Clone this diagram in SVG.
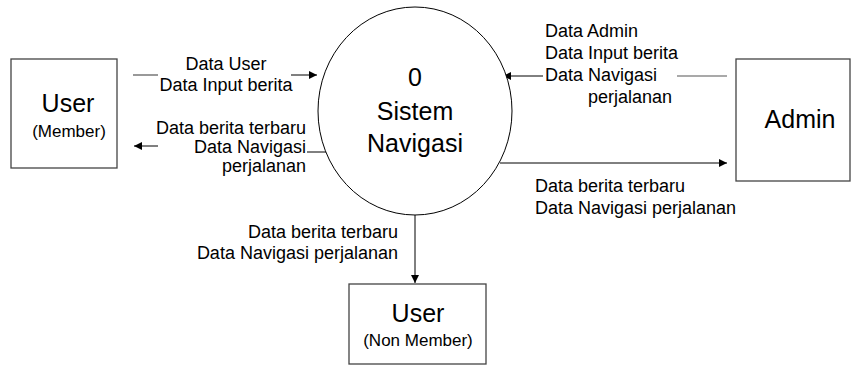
<svg xmlns="http://www.w3.org/2000/svg" width="852" height="366" viewBox="0 0 852 366">
<style>
  text { font-family: "Liberation Sans", Arial, sans-serif; fill: #000; }
  .box { fill: #fff; stroke: #444; stroke-width: 1.3; }
  .proc { fill: #fff; stroke: #000; stroke-width: 1; }
  .big { font-size: 25px; text-anchor: middle; }
  .sub { font-size: 17px; text-anchor: middle; }
  .lbl { font-size: 18px; }
  .flow { fill: none; stroke: #000; stroke-width: 1; }
  .flowg { fill: none; stroke: #555; stroke-width: 1.2; }
</style>
<defs>
  <marker id="ah" viewBox="0 0 10 10" refX="10" refY="5" markerWidth="10" markerHeight="8" markerUnits="userSpaceOnUse" orient="auto">
    <path d="M0,0 L10,5 L0,10 z" fill="#000"/>
  </marker>
</defs>
<rect width="852" height="366" fill="#fff"/>

<g id="connectors">
  <!-- User(Member) -> Sistem -->
  <line class="flowg" x1="133" y1="75" x2="158" y2="75"/>
  <line class="flow" x1="291" y1="75" x2="317" y2="75" marker-end="url(#ah)"/>
  <!-- Sistem -> User(Member) -->
  <line class="flow" x1="326" y1="152" x2="307" y2="152"/>
  <line class="flow" x1="158" y1="146" x2="134" y2="146" marker-end="url(#ah)"/>
  <!-- Admin -> Sistem -->
  <line class="flowg" x1="727" y1="76" x2="677" y2="76"/>
  <line class="flow" x1="543" y1="76" x2="503" y2="76" marker-end="url(#ah)"/>
  <!-- Sistem -> Admin -->
  <line class="flow" x1="500" y1="163" x2="727" y2="163" marker-end="url(#ah)"/>
  <!-- Sistem -> User(Non Member) -->
  <line class="flow" x1="415" y1="214" x2="415" y2="283" marker-end="url(#ah)"/>

  <text class="lbl" x="226" y="70" text-anchor="middle">Data User</text>
  <text class="lbl" x="226" y="91" text-anchor="middle">Data Input berita</text>

  <text class="lbl" x="306" y="134" text-anchor="end">Data berita terbaru</text>
  <text class="lbl" x="306" y="153" text-anchor="end">Data Navigasi</text>
  <text class="lbl" x="306" y="172" text-anchor="end">perjalanan</text>

  <text class="lbl" x="545" y="37">Data Admin</text>
  <text class="lbl" x="545" y="59">Data Input berita</text>
  <text class="lbl" x="545" y="81">Data Navigasi</text>
  <text class="lbl" x="588" y="103">perjalanan</text>

  <text class="lbl" x="535" y="192">Data berita terbaru</text>
  <text class="lbl" x="535" y="214">Data Navigasi perjalanan</text>

  <text class="lbl" x="398" y="238" text-anchor="end">Data berita terbaru</text>
  <text class="lbl" x="398" y="259" text-anchor="end">Data Navigasi perjalanan</text>
</g>

<g id="user-member">
  <rect class="box" x="11" y="59" width="106" height="109"/>
  <text class="big" x="68" y="112">User</text>
  <text class="sub" x="69" y="137">(Member)</text>
</g>

<g id="sistem-navigasi">
  <ellipse class="proc" cx="415" cy="111" rx="97" ry="104"/>
  <text class="big" x="415" y="86">0</text>
  <text class="big" x="415" y="120">Sistem</text>
  <text class="big" x="415" y="152">Navigasi</text>
</g>

<g id="admin">
  <rect class="box" x="736" y="59" width="114" height="122"/>
  <text class="big" x="800" y="128">Admin</text>
</g>

<g id="user-non-member">
  <rect class="box" x="349" y="284" width="137" height="80"/>
  <text class="big" x="418" y="322">User</text>
  <text class="sub" x="418" y="346">(Non Member)</text>
</g>
</svg>
